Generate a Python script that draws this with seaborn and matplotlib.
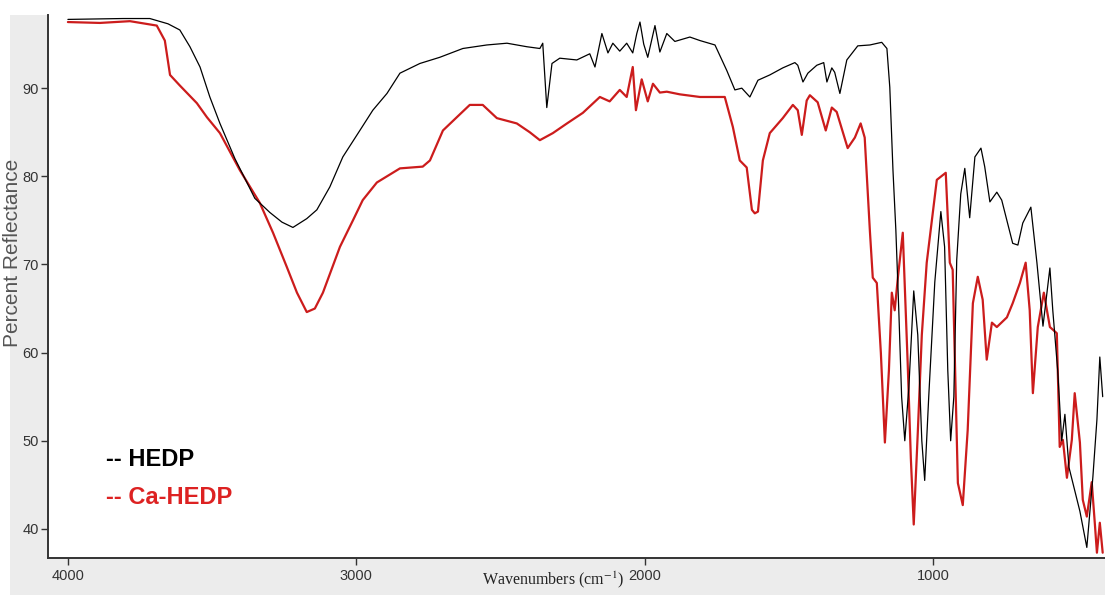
import matplotlib
matplotlib.use("Agg")
import matplotlib.pyplot as plt
from matplotlib.patches import Rectangle
import seaborn as sns
import pandas as pd

# ---------------- data ----------------
hedp_wn = [4000, 3809, 3716, 3653, 3612, 3577, 3542, 3508, 3473, 3421, 3352, 3300,
           3258, 3220, 3172, 3137, 3092, 3047, 2988, 2943, 2894, 2849, 2780, 2711,
           2631, 2548, 2478, 2409, 2364, 2354, 2340, 2322, 2295, 2236, 2191, 2173,
           2149, 2128, 2111, 2087, 2063, 2042, 2028, 2017, 2004, 1990, 1965, 1948,
           1924, 1896, 1844, 1809, 1757, 1716, 1688, 1664, 1636, 1608, 1567, 1522,
           1480, 1470, 1452, 1435, 1404, 1380, 1369, 1352, 1342, 1324, 1300, 1262,
           1220, 1179, 1161, 1151, 1140, 1130, 1120, 1110, 1099, 1085, 1068, 1054,
           1040, 1030, 1016, 995, 974, 961, 950, 940, 929, 919, 905, 891, 874, 856,
           835, 822, 804, 780, 763, 725, 707, 690, 662, 641, 620, 596, 586, 569,
           555, 544, 530, 492, 468, 447, 433, 423, 413]
hedp_val = [97.8, 97.9, 97.9, 97.3, 96.6, 94.7, 92.4, 89.0, 86.0, 82.0, 77.5, 75.9,
            74.8, 74.2, 75.2, 76.2, 78.8, 82.2, 85.2, 87.5, 89.4, 91.7, 92.8, 93.5,
            94.5, 94.9, 95.1, 94.7, 94.5, 95.1, 87.8, 92.8, 93.4, 93.2, 93.9, 92.4,
            96.2, 94.0, 95.1, 94.2, 95.1, 94.0, 96.2, 97.5, 95.0, 93.5, 97.1, 94.1,
            96.2, 95.3, 95.8, 95.4, 94.9, 92.0, 89.8, 90.0, 89.0, 90.9, 91.5, 92.3,
            92.9, 92.6, 90.7, 91.7, 92.6, 92.9, 90.7, 92.3, 91.8, 89.4, 93.2, 94.8,
            94.9, 95.2, 94.5, 90.1, 80.7, 73.9, 65.0, 55.0, 50.0, 56.0, 67.0, 62.0,
            50.0, 45.5, 55.0, 68.0, 76.0, 72.0, 58.0, 50.0, 55.0, 70.5, 78.0, 80.9,
            75.3, 82.2, 83.2, 81.1, 77.1, 78.2, 77.3, 72.4, 72.2, 74.7, 76.5, 70.2,
            63.0, 69.6, 64.8, 58.0, 50.0, 53.0, 47.0, 42.0, 37.9, 45.9, 52.4, 59.5, 55.0]

ca_wn = [4000, 3889, 3785, 3692, 3664, 3646, 3612, 3553, 3518, 3473, 3404, 3335,
         3289, 3241, 3206, 3172, 3144, 3116, 3057, 3012, 2978, 2929, 2849, 2770,
         2745, 2700, 2652, 2607, 2562, 2513, 2444, 2399, 2364, 2319, 2270, 2215,
         2156, 2122, 2087, 2063, 2042, 2031, 2011, 1990, 1972, 1948, 1924, 1879,
         1809, 1723, 1695, 1671, 1647, 1629, 1619, 1608, 1591, 1567, 1522, 1487,
         1470, 1456, 1439, 1428, 1401, 1373, 1352, 1335, 1297, 1272, 1252, 1238,
         1220, 1210, 1196, 1182, 1168, 1154, 1144, 1134, 1123, 1106, 1089, 1078,
         1068, 1054, 1040, 1023, 988, 957, 943, 933, 915, 898, 881, 863, 846, 829,
         815, 797, 780, 745, 725, 700, 680, 666, 655, 638, 617, 596, 572, 562,
         551, 537, 520, 510, 492, 482, 468, 451, 440, 433, 423, 413]
ca_val = [97.5, 97.4, 97.6, 97.1, 95.4, 91.5, 90.3, 88.3, 86.7, 84.9, 80.7, 77.0,
          73.6, 69.7, 66.8, 64.6, 65.0, 66.8, 72.0, 75.0, 77.3, 79.3, 80.9, 81.1,
          81.8, 85.2, 86.7, 88.1, 88.1, 86.6, 86.0, 85.0, 84.1, 84.9, 86.0, 87.2,
          89.0, 88.5, 89.8, 89.0, 92.4, 87.5, 91.0, 88.5, 90.5, 89.5, 89.6, 89.3,
          89.0, 89.0, 85.6, 81.8, 81.0, 76.2, 75.8, 76.0, 81.8, 84.9, 86.6, 88.1,
          87.5, 84.7, 88.6, 89.2, 88.4, 85.2, 87.8, 87.3, 83.2, 84.4, 86.0, 84.4,
          73.8, 68.5, 67.9, 60.0, 49.8, 58.0, 66.8, 64.8, 68.5, 73.6, 58.8, 48.0,
          40.5, 50.9, 62.0, 70.2, 79.6, 80.4, 70.2, 69.4, 45.2, 42.7, 51.2, 65.6,
          68.6, 66.0, 59.2, 63.4, 62.9, 64.0, 65.6, 67.9, 70.2, 64.8, 55.4, 62.9,
          66.8, 62.9, 62.2, 49.3, 50.1, 45.8, 50.1, 55.4, 49.8, 43.3, 41.4, 45.3,
          40.5, 37.3, 40.7, 37.3]

x_ticks = [4000, 3000, 2000, 1000]
y_ticks = [40, 50, 60, 70, 80, 90]
series_names = ["HEDP", "Ca-HEDP"]

# ---------------- style ----------------
sns.set_style("ticks")
plt.rcParams["font.family"] = ["Liberation Sans", "DejaVu Sans"]
plt.rcParams["mathtext.fontset"] = "stix"

W, H = 1105, 595
fig = plt.figure(figsize=(W / 100, H / 100), dpi=100, facecolor="white")
fig.patches.append(Rectangle((10 / W, 0), 1, (H - 15) / H,
                             transform=fig.transFigure, facecolor="#ececec",
                             edgecolor="none", zorder=-10))
ax = fig.add_axes([48 / W, 37 / H, (W - 48) / W, (558 - 15) / H])
ax.set_facecolor("white")

df = pd.concat([
    pd.DataFrame({"wn": hedp_wn, "val": hedp_val, "s": series_names[0]}),
    pd.DataFrame({"wn": ca_wn, "val": ca_val, "s": series_names[1]}),
])
sns.lineplot(data=df[df.s == "Ca-HEDP"], x="wn", y="val", color="#cc1c1c",
             linewidth=1.6, ax=ax, legend=False, sort=False, estimator=None)
sns.lineplot(data=df[df.s == "HEDP"], x="wn", y="val", color="black",
             linewidth=0.9, ax=ax, legend=False, sort=False, estimator=None)

ax.set_xlim(4069, 405)
ax.set_ylim(36.7, 98.3)
ax.set_xticks(x_ticks)
ax.set_xticklabels([str(t) for t in x_ticks])
ax.set_yticks(y_ticks)
ax.set_yticklabels([str(t) for t in y_ticks])
ax.tick_params(axis="both", labelsize=10.5, colors="#333333", length=5, width=1,
               pad=1.5, labelcolor="#333333")
ax.tick_params(axis="x", pad=3)
for side in ["top", "right"]:
    ax.spines[side].set_visible(False)
for side in ["left", "bottom"]:
    ax.spines[side].set_color("#333333")
    ax.spines[side].set_linewidth(1.4)

ax.set_xlabel("")
ax.set_ylabel("")


def px(x, y):
    return x / W, 1 - y / H


fig.text(*px(624, 580), "Wavenumbers (cm$^{-1}$)", ha="right",
         va="center", fontsize=11.5, family=["Liberation Serif", "DejaVu Serif"],
         color="#222222")
fig.text(*px(13, 253), "Percent Reflectance", rotation=90, ha="center",
         va="center", fontsize=15, family=["Liberation Sans", "DejaVu Sans"],
         color="#555555")

fig.text(*px(106, 459), "-- " + series_names[0], fontsize=17,
         fontweight="bold", color="black", va="center", ha="left")
fig.text(*px(106, 497), "-- " + series_names[1], fontsize=17,
         fontweight="bold", color="#dd2222", va="center", ha="left")

fig.savefig("out.png", dpi=100, facecolor=fig.get_facecolor())
